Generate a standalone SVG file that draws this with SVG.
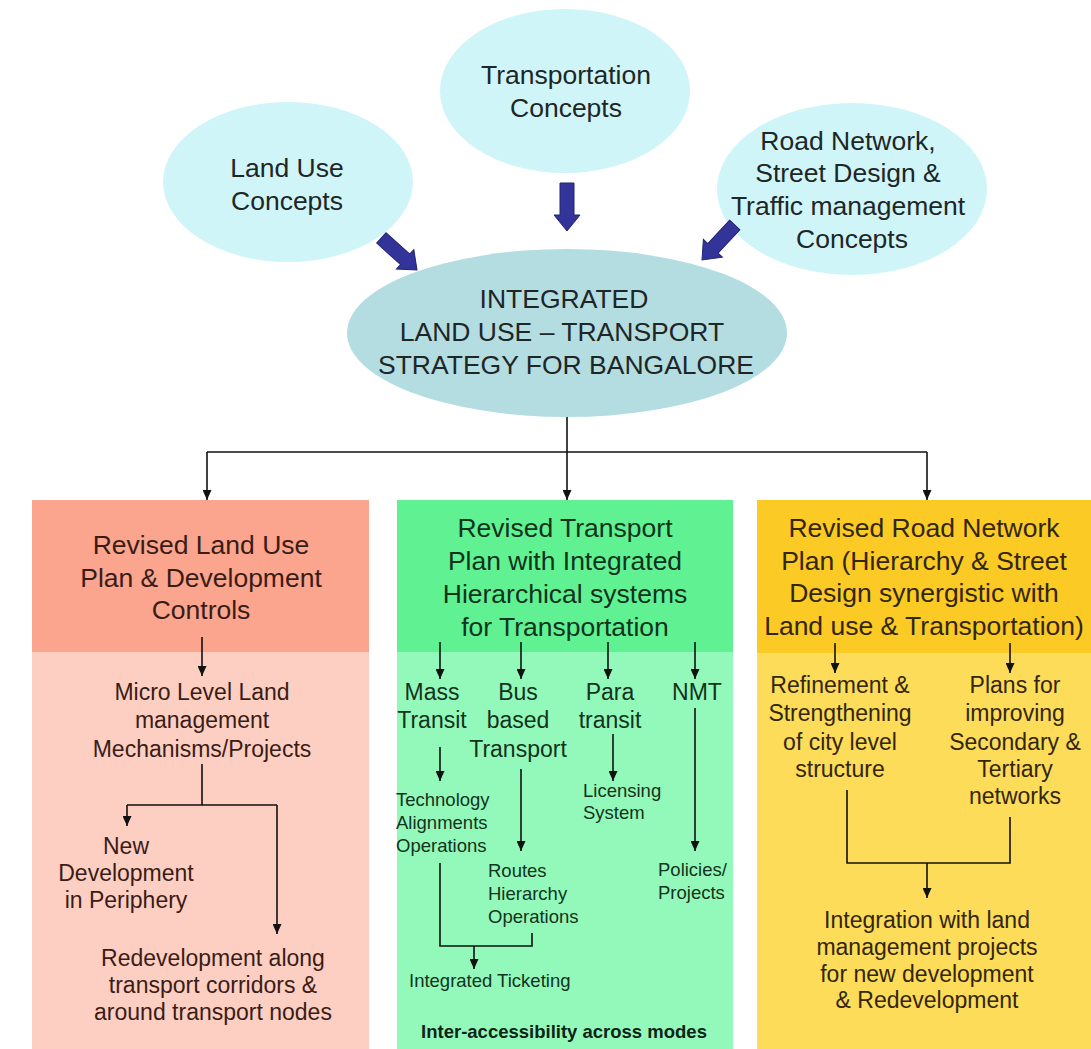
<svg xmlns="http://www.w3.org/2000/svg" width="1091" height="1049" viewBox="0 0 1091 1049">
  <style>
    text { font-family: "Liberation Sans", Arial, sans-serif; text-anchor: middle; }
    .big { font-size: 26.5px; }
    .mid { font-size: 23px; }
    .small { font-size: 18.5px; text-anchor: start; }
    .concept { fill: #cff5f8; }
    .core { fill: #b4dde2; }
    .t-dark { fill: #1e2626; }
    .t-red { fill: #3a1c16; }
    .t-green { fill: #12331c; }
    .t-gold { fill: #33260c; }
    .wire { fill: none; stroke: #111; stroke-width: 1.6; }
    .arr { marker-end: url(#head); }
    .block { fill: #33349a; stroke: #23246e; stroke-width: 1; }
  </style>
  <defs>
    <marker id="head" markerUnits="userSpaceOnUse" markerWidth="10" markerHeight="9" refX="10" refY="4.5" orient="auto">
      <path d="M0,0 L10,4.5 L0,9 z" fill="#111"/>
    </marker>
    <!-- thick block arrow, tip at origin, pointing down -->
    <polygon id="blockArrow" points="-7,-48 7,-48 7,-16 13,-16 0,0 -13,-16 -7,-16"/>
  </defs>

  <rect width="1091" height="1049" fill="#ffffff"/>

  <!-- concept ellipses -->
  <g id="land-use-concepts">
    <ellipse class="concept" cx="288" cy="182" rx="125" ry="80"/>
    <text class="big t-dark" x="287" y="177">Land Use</text>
    <text class="big t-dark" x="287" y="210">Concepts</text>
  </g>
  <g id="transportation-concepts">
    <ellipse class="concept" cx="565" cy="91" rx="125" ry="82"/>
    <text class="big t-dark" x="566" y="84">Transportation</text>
    <text class="big t-dark" x="566" y="117">Concepts</text>
  </g>
  <g id="road-network-concepts">
    <ellipse class="concept" cx="852" cy="189" rx="135" ry="86"/>
    <text class="big t-dark" x="848" y="150">Road Network,</text>
    <text class="big t-dark" x="848" y="182">Street Design &amp;</text>
    <text class="big t-dark" x="848" y="215">Traffic management</text>
    <text class="big t-dark" x="852" y="248">Concepts</text>
  </g>

  <!-- central strategy ellipse -->
  <g id="integrated-strategy">
    <ellipse class="core" cx="567" cy="333" rx="220" ry="84"/>
    <text class="big t-dark" x="564" y="308">INTEGRATED</text>
    <text class="big t-dark" x="562" y="341">LAND USE – TRANSPORT</text>
    <text class="big t-dark" x="566" y="374">STRATEGY FOR BANGALORE</text>
  </g>

  <!-- block arrows feeding the strategy -->
  <g id="feed-arrows" class="block">
    <use href="#blockArrow" transform="translate(567,231)"/>
    <use href="#blockArrow" transform="translate(417,270) rotate(-48)"/>
    <use href="#blockArrow" transform="translate(702,260) rotate(43)"/>
  </g>

  <!-- land use column -->
  <g id="land-use-plan">
    <rect x="32" y="500" width="337" height="152" fill="#fba48e"/>
    <rect x="32" y="652" width="337" height="397" fill="#fdcfc3"/>
    <text class="big t-red" x="201" y="554">Revised Land Use</text>
    <text class="big t-red" x="201" y="587">Plan &amp; Development</text>
    <text class="big t-red" x="201" y="619">Controls</text>
  </g>
  <g id="micro-level">
    <text class="mid t-red" x="202" y="700">Micro Level Land</text>
    <text class="mid t-red" x="202" y="728">management</text>
    <text class="mid t-red" x="202" y="757">Mechanisms/Projects</text>
  </g>
  <g id="new-development">
    <text class="mid t-red" x="126" y="854">New</text>
    <text class="mid t-red" x="126" y="881">Development</text>
    <text class="mid t-red" x="126" y="908">in Periphery</text>
  </g>
  <g id="redevelopment">
    <text class="mid t-red" x="213" y="966">Redevelopment along</text>
    <text class="mid t-red" x="213" y="993">transport corridors &amp;</text>
    <text class="mid t-red" x="213" y="1020">around transport nodes</text>
  </g>

  <!-- transport column -->
  <g id="transport-plan">
    <rect x="397" y="500" width="336" height="152" fill="#60f292"/>
    <rect x="397" y="652" width="336" height="397" fill="#93f9ba"/>
    <text class="big t-green" x="565" y="537">Revised Transport</text>
    <text class="big t-green" x="565" y="570">Plan with Integrated</text>
    <text class="big t-green" x="565" y="603">Hierarchical systems</text>
    <text class="big t-green" x="565" y="636">for Transportation</text>
  </g>
  <g id="mass-transit">
    <text class="mid t-green" x="432" y="700">Mass</text>
    <text class="mid t-green" x="432" y="728">Transit</text>
  </g>
  <g id="bus-transport">
    <text class="mid t-green" x="518" y="700">Bus</text>
    <text class="mid t-green" x="518" y="728">based</text>
    <text class="mid t-green" x="518" y="757">Transport</text>
  </g>
  <g id="para-transit">
    <text class="mid t-green" x="610" y="700">Para</text>
    <text class="mid t-green" x="610" y="728">transit</text>
  </g>
  <g id="nmt">
    <text class="mid t-green" x="697" y="700">NMT</text>
  </g>
  <g id="technology">
    <text class="small t-green" x="396" y="806">Technology</text>
    <text class="small t-green" x="396" y="829">Alignments</text>
    <text class="small t-green" x="396" y="852">Operations</text>
  </g>
  <g id="routes">
    <text class="small t-green" x="488" y="877">Routes</text>
    <text class="small t-green" x="488" y="900">Hierarchy</text>
    <text class="small t-green" x="488" y="923">Operations</text>
  </g>
  <g id="licensing">
    <text class="small t-green" x="583" y="797">Licensing</text>
    <text class="small t-green" x="583" y="819">System</text>
  </g>
  <g id="policies">
    <text class="small t-green" x="658" y="876">Policies/</text>
    <text class="small t-green" x="658" y="899">Projects</text>
  </g>
  <g id="integrated-ticketing">
    <text class="small t-green" x="409" y="987">Integrated Ticketing</text>
  </g>
  <g id="inter-accessibility">
    <text x="564" y="1038" font-size="18.5" font-weight="bold" fill="#0e2416">Inter-accessibility across modes</text>
  </g>

  <!-- road network column -->
  <g id="road-network-plan">
    <rect x="757" y="500" width="334" height="153" fill="#fcca25"/>
    <rect x="757" y="653" width="334" height="396" fill="#fddc59"/>
    <text class="big t-gold" x="924" y="537">Revised Road Network</text>
    <text class="big t-gold" x="924" y="570">Plan (Hierarchy &amp; Street</text>
    <text class="big t-gold" x="924" y="602">Design synergistic with</text>
    <text class="big t-gold" x="924" y="635">Land use &amp; Transportation)</text>
  </g>
  <g id="city-structure">
    <text class="mid t-gold" x="840" y="693">Refinement &amp;</text>
    <text class="mid t-gold" x="840" y="721">Strengthening</text>
    <text class="mid t-gold" x="840" y="750">of city level</text>
    <text class="mid t-gold" x="840" y="777">structure</text>
  </g>
  <g id="secondary-networks">
    <text class="mid t-gold" x="1015" y="693">Plans for</text>
    <text class="mid t-gold" x="1015" y="721">improving</text>
    <text class="mid t-gold" x="1015" y="750">Secondary &amp;</text>
    <text class="mid t-gold" x="1015" y="777">Tertiary</text>
    <text class="mid t-gold" x="1015" y="804">networks</text>
  </g>
  <g id="land-management-integration">
    <text class="mid t-gold" x="927" y="928">Integration with land</text>
    <text class="mid t-gold" x="927" y="955">management projects</text>
    <text class="mid t-gold" x="927" y="982">for new development</text>
    <text class="mid t-gold" x="927" y="1008">&amp; Redevelopment</text>
  </g>

  <!-- connectors -->
  <g id="connectors">
    <path class="wire arr" d="M567,417 V500"/>
    <path class="wire" d="M207,452 H927"/>
    <path class="wire arr" d="M207,452 V500"/>
    <path class="wire arr" d="M927,452 V500"/>

    <path class="wire arr" d="M202,637 V676"/>
    <path class="wire" d="M202,764 V805 M127,805 H277"/>
    <path class="wire arr" d="M127,805 V826"/>
    <path class="wire arr" d="M277,805 V934"/>

    <path class="wire arr" d="M440,642 V679"/>
    <path class="wire arr" d="M521,642 V679"/>
    <path class="wire arr" d="M608,642 V679"/>
    <path class="wire arr" d="M695,642 V679"/>
    <path class="wire arr" d="M440,747 V781"/>
    <path class="wire arr" d="M521,769 V851"/>
    <path class="wire arr" d="M613,734 V781"/>
    <path class="wire arr" d="M695,708 V851"/>
    <path class="wire" d="M440,863 V946 H532 V933"/>
    <path class="wire arr" d="M474,946 V969"/>

    <path class="wire arr" d="M835,643 V673"/>
    <path class="wire arr" d="M1010,643 V673"/>
    <path class="wire" d="M847,790 V863 H1010 V817"/>
    <path class="wire arr" d="M927,863 V898"/>
  </g>
</svg>
